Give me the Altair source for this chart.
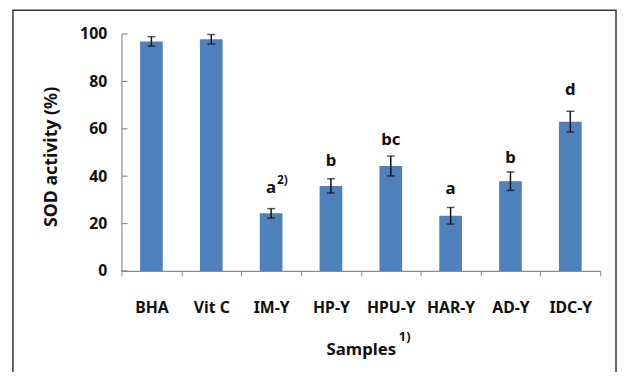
import altair as alt
import pandas as pd

samples = ["BHA", "Vit C", "IM-Y", "HP-Y", "HPU-Y", "HAR-Y", "AD-Y", "IDC-Y"]
sod = [96.9, 97.8, 24.3, 35.9, 44.3, 23.3, 37.9, 63.0]
err = [2.0, 2.0, 2.0, 3.0, 4.2, 3.5, 3.9, 4.4]
letters = ["", "", "a", "b", "bc", "a", "b", "d"]
letter_y = [0, 0, 32.8, 44.5, 53.2, 32.3, 45.4, 74.3]
sup_letter = ["", "", "2)", "", "", "", "", ""]
y_ticks = [0, 20, 40, 60, 80, 100]

df = pd.DataFrame({
    "Sample": samples,
    "SOD": sod,
    "lo": [v - e for v, e in zip(sod, err)],
    "hi": [v + e for v, e in zip(sod, err)],
    "letter": letters,
    "ly": letter_y,
    "sup": sup_letter,
})
ticks_df = pd.DataFrame({"t": y_ticks})

FONT = "Noto Sans"
xs = alt.X("Sample:N", sort=samples,
           scale=alt.Scale(paddingInner=0, paddingOuter=0),
           axis=alt.Axis(title="Samples", labelAngle=0, tickBand="extent",
                         tickSize=5, labelPadding=24, labelFontSize=16,
                         labelFont=FONT, labelFontWeight="bold", labelColor="#111",
                         titleFont=FONT, titleFontSize=17, titleFontWeight="bold",
                         titleColor="#111", titleY=85, titleBaseline="alphabetic",
                         domainColor="#8c8c8c", tickColor="#8c8c8c", domainWidth=1.2))
ys = alt.Y("SOD:Q", scale=alt.Scale(domain=[0, 100], nice=False),
           axis=alt.Axis(title="SOD activity (%)", values=y_ticks, tickSize=0,
                         labelPadding=15, grid=False, labelFontSize=16, labelFont=FONT,
                         labelFontWeight="bold", labelColor="#111",
                         titleFont=FONT, titleFontSize=18, titleFontWeight="bold",
                         titleColor="#111", titleX=-71, titleY=124,
                         titleBaseline="middle", titleAngle=-90,
                         domainColor="#8c8c8c", domainWidth=1.2))

base = alt.Chart(df)
bars = base.mark_bar(size=23, color="#4F81BD").encode(x=xs, y=ys)
stem = base.mark_rule(color="#111", strokeWidth=1.5).encode(
    x=alt.X("Sample:N", sort=samples), y="lo:Q", y2="hi:Q")
cap_lo = base.mark_tick(color="#111", thickness=1.5, size=8).encode(
    x=alt.X("Sample:N", sort=samples), y="lo:Q")
cap_hi = base.mark_tick(color="#111", thickness=1.5, size=8).encode(
    x=alt.X("Sample:N", sort=samples), y="hi:Q")
txt = base.mark_text(font=FONT, fontSize=17, fontWeight="bold", color="#111",
                     baseline="alphabetic").encode(
    x=alt.X("Sample:N", sort=samples), y="ly:Q", text="letter:N")
sup = base.mark_text(font=FONT, fontSize=12, fontWeight="bold", color="#111",
                     baseline="alphabetic", align="left", dx=6, dy=-9).encode(
    x=alt.X("Sample:N", sort=samples), y="ly:Q", text="sup:N")
yt = alt.Chart(ticks_df).mark_rule(color="#8c8c8c", strokeWidth=1.2).encode(
    y="t:Q", x=alt.value(0), x2=alt.value(6))
xsup = alt.Chart(pd.DataFrame({"s": ["1)"]})).mark_text(
    font=FONT, fontSize=13, fontWeight="bold", color="#111", align="left",
    baseline="alphabetic").encode(x=alt.value(281), y=alt.value(311), text="s:N")
frame = alt.Chart(pd.DataFrame({"f": [0]})).mark_rect(
    fill=None, stroke="#333", strokeWidth=1.5).encode(
    x=alt.value(-110), x2=alt.value(501), y=alt.value(-24), y2=alt.value(420))

chart = alt.layer(frame, bars, stem, cap_lo, cap_hi, txt, sup, yt, xsup).properties(
    width=485, height=240,
    autosize=alt.AutoSizeParams(type="none"),
    padding={"left": 115, "top": 24, "right": 17, "bottom": 100},
).configure_view(stroke=None)

chart.save("out.html", embed_options={"renderer": "svg", "actions": False})
